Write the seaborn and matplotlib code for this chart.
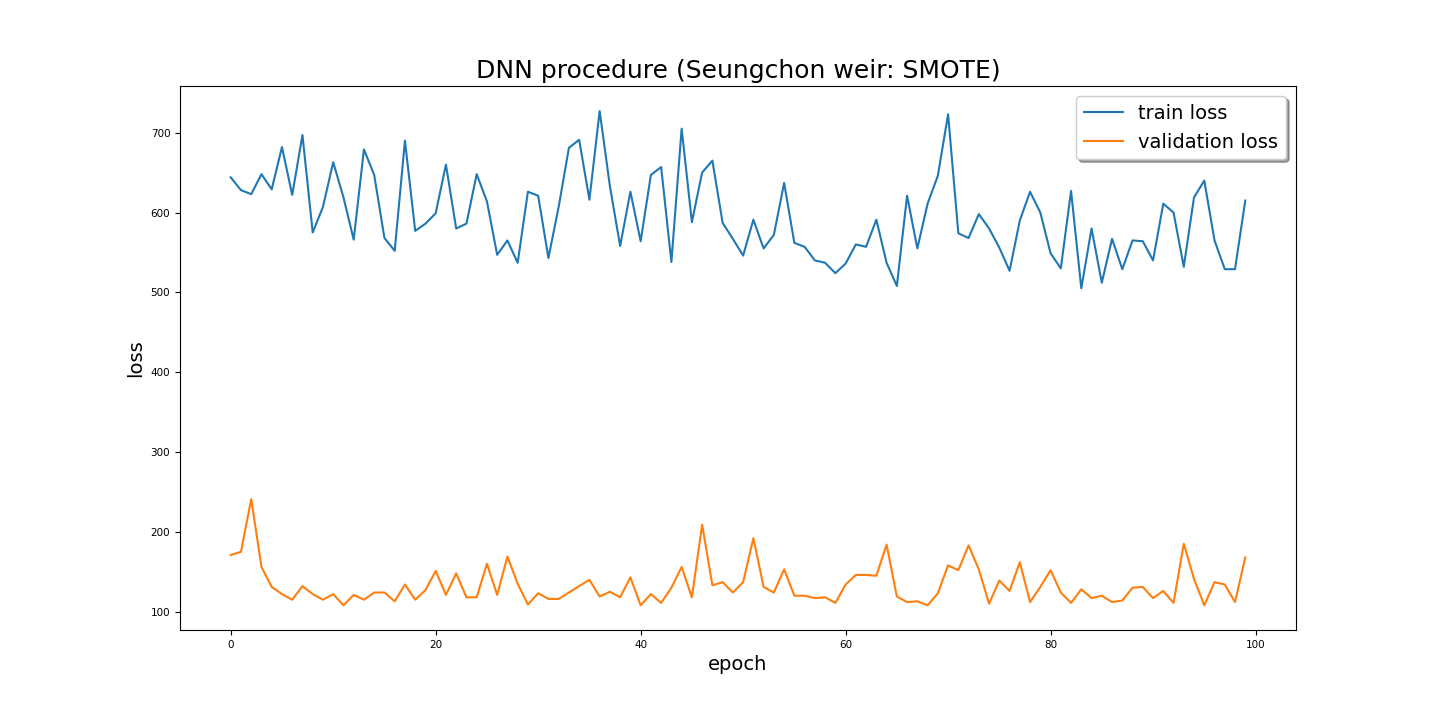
import numpy as np
import pandas as pd
import matplotlib
matplotlib.use("Agg")
import matplotlib.pyplot as plt
import seaborn as sns

train_loss = [644, 628, 623, 648, 629, 682, 622, 697, 575, 607, 663, 619, 566, 679, 647, 568, 552, 690, 577, 586,
              599, 660, 580, 586, 648, 614, 547, 565, 537, 626, 621, 543, 607, 681, 691, 616, 727, 633, 558, 626,
              564, 647, 657, 538, 705, 588, 650, 665, 587, 567, 546, 591, 555, 572, 637, 562, 557, 540, 537, 524,
              536, 560, 557, 591, 537, 508, 621, 555, 611, 646, 723, 574, 568, 598, 580, 556, 527, 590, 626, 600,
              549, 530, 627, 505, 580, 512, 567, 529, 565, 564, 540, 611, 600, 532, 619, 640, 565, 529, 529, 615]
val_loss = [171, 175, 241, 156, 131, 122, 115, 132, 122, 115, 122, 108, 121, 115, 124, 124, 113, 134, 115, 127,
            151, 121, 148, 118, 118, 160, 121, 169, 135, 109, 123, 116, 116, 124, 132, 140, 119, 125, 118, 143,
            108, 122, 111, 130, 156, 118, 209, 133, 137, 124, 137, 192, 131, 124, 153, 120, 120, 117, 118, 111,
            134, 146, 146, 145, 184, 119, 112, 113, 108, 123, 158, 152, 183, 153, 110, 139, 126, 162, 112, 131,
            152, 124, 111, 128, 117, 120, 112, 114, 130, 131, 117, 126, 111, 185, 141, 108, 137, 134, 112, 168]
epochs = list(range(len(train_loss)))

fig, ax = plt.subplots(figsize=(14.4, 7.2), dpi=100)
fig.subplots_adjust(left=0.125, right=0.9, top=0.88, bottom=0.125)
sns.lineplot(x=epochs, y=train_loss, ax=ax, color="#1f77b4", label="train loss")
sns.lineplot(x=epochs, y=val_loss, ax=ax, color="#ff7f0e", label="validation loss")
ax.set_title("DNN procedure (Seungchon weir: SMOTE)", fontsize=18)
ax.set_xlabel("epoch", fontsize=14)
ax.set_ylabel("loss", fontsize=14)
ax.title.set_fontsize(18)
ax.legend(fontsize=14, shadow=True, loc="upper right")
ax.set_yticks([100, 200, 300, 400, 500, 600, 700])
ax.tick_params(labelsize=7.5)
fig.savefig("out.png", dpi=100)
